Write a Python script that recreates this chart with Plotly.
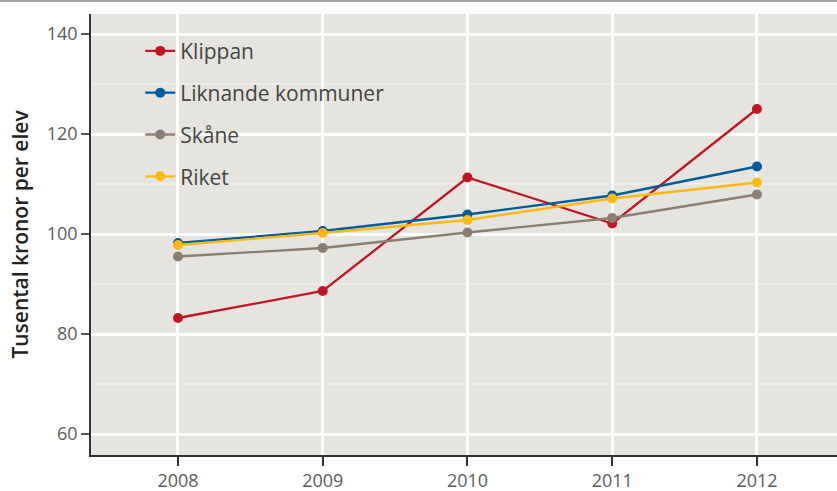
import plotly.graph_objects as go

years = [2008, 2009, 2010, 2011, 2012]
klippan = [83.2, 88.6, 111.3, 102.1, 125.0]
liknande = [98.2, 100.6, 103.9, 107.7, 113.5]
skane = [95.5, 97.2, 100.3, 103.2, 107.9]
riket = [97.8, 100.2, 102.8, 107.1, 110.3]

series = [
    ("Klippan", klippan, "#BE1622"),
    ("Liknande kommuner", liknande, "#005B9A"),
    ("Skåne", skane, "#8B7E72"),
    ("Riket", riket, "#FDB913"),
]

fig = go.Figure()
for name, vals, col in series:
    fig.add_trace(go.Scatter(
        x=years, y=vals, name=name, mode="lines+markers",
        line=dict(color=col, width=2.3),
        marker=dict(color=col, size=10),
        legendgroup=name,
    ))

font_family = "Open Sans, Noto Sans, sans-serif"

fig.update_layout(
    width=837, height=491,
    margin=dict(l=91, r=0, t=14, b=36),
    paper_bgcolor="white",
    plot_bgcolor="#E5E4DE",
    font=dict(family=font_family, color="#555555", size=15),
    showlegend=True,
    legend=dict(
        x=0.066, y=0.962, xanchor="left", yanchor="top",
        bgcolor="rgba(0,0,0,0)",
        font=dict(size=21, color="#444444", family=font_family),
        tracegroupgap=11.5,
        itemwidth=30,
    ),
    shapes=[dict(type="line", xref="paper", yref="paper", x0=-0.2, x1=1.0,
                 y0=1.0295, y1=1.0295, line=dict(color="#8B847C", width=1.5))],
)

fig.update_xaxes(
    range=[2007.399, 2012.553],
    tickvals=years, ticktext=[str(y) for y in years],
    showgrid=True, gridcolor="white", gridwidth=2.5,
    showline=True, linecolor="#333333", linewidth=1.5,
    ticks="outside", ticklen=9, tickcolor="#333333", tickwidth=1.5,
    zeroline=False,
    tickfont=dict(size=18, color="#5c5c5c"),
)
fig.update_yaxes(
    range=[55.8, 144.0],
    tickvals=[60, 80, 100, 120, 140],
    showgrid=True, gridcolor="white", gridwidth=2.5,
    showline=True, linecolor="#333333", linewidth=1.5,
    ticks="outside", ticklen=8, tickcolor="#555555", tickwidth=1.5,
    zeroline=False,
    minor=dict(tickvals=[70, 90, 110, 130], showgrid=True, gridcolor="#EDECE7", gridwidth=1.5, ticks=""),
    tickfont=dict(size=18, color="#5c5c5c"),
    title=dict(text="Tusental kronor per elev", font=dict(size=21, color="#222222", weight=600), standoff=12),
)

fig.write_html("out.html", post_script="document.body.style.margin='0';",
               config={"displayModeBar": False})
